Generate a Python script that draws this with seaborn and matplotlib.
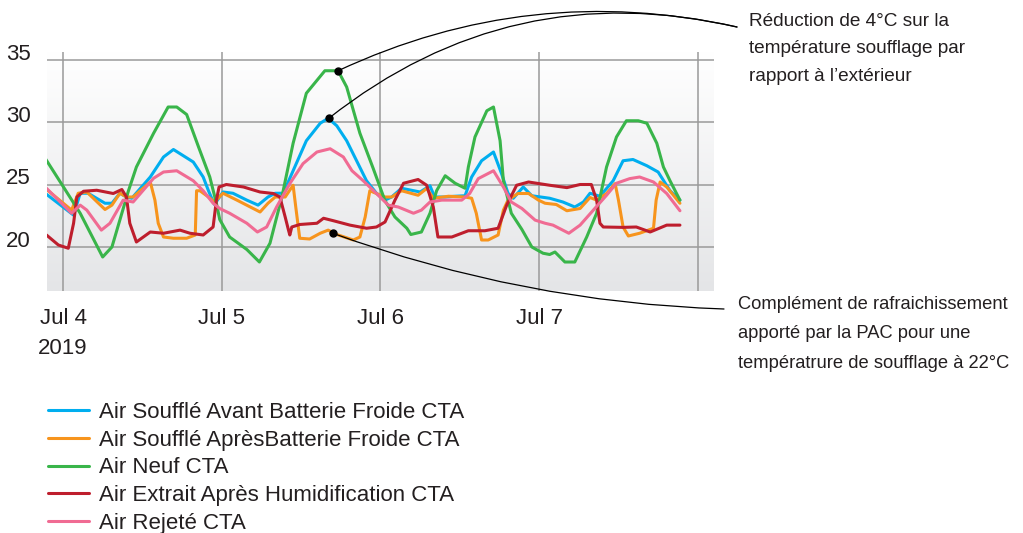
import numpy as np
import pandas as pd
import matplotlib
matplotlib.use("Agg")
import matplotlib.pyplot as plt
from matplotlib.colors import LinearSegmentedColormap
import seaborn as sns

# series: hours after 2019-07-04 00:00 and temperature (°C)
names = ["Air Soufflé Avant Batterie Froide CTA",
         "Air Soufflé AprèsBatterie Froide CTA",
         "Air Neuf CTA",
         "Air Extrait Après Humidification CTA",
         "Air Rejeté CTA"]
colors = ["#00aeef", "#f7941d", "#39b54a", "#be1e2d", "#f06b93"]

blue_h = [-2.7, 1.6, 2.6, 3.8, 6.35, 7.4, 8.6, 9.6, 10.4, 13.2, 15.2, 16.7, 18.2, 19.7, 21.2,
          22.0, 22.9, 24.2, 25.7, 27.8, 29.5, 31.0, 32.1, 33.3, 34.8, 36.8, 38.9, 40.1, 41.4,
          42.9, 44.4, 45.9, 47.4, 48.7, 49.7, 51.2, 54.0, 55.5, 56.2, 57.8, 59.3, 60.8, 61.8,
          63.3, 65.1, 66.3, 67.3, 68.1, 69.6, 70.9, 73.6, 75.6, 77.4, 78.7, 79.7, 81.2, 83.2,
          84.7, 86.2, 88.3, 90.0, 91.8, 93.3]
blue_v = [24.3, 22.55, 24.3, 24.3, 23.5, 23.5, 24.3, 24.0, 23.9, 25.6, 27.2, 27.8, 27.3, 26.8, 25.6,
          24.5, 23.4, 24.4, 24.3, 23.75, 23.35, 24.0, 24.3, 24.3, 26.1, 28.5, 29.9, 30.3, 29.7,
          28.5, 26.9, 25.3, 24.3, 23.75, 24.0, 24.7, 24.4, 24.9, 24.0, 24.0, 24.06, 24.1, 25.6,
          26.9, 27.6, 25.9, 24.3, 23.9, 24.8, 24.1, 23.9, 23.6, 23.2, 23.6, 24.3, 24.06, 25.3,
          26.9, 27.0, 26.5, 26.0, 24.5, 23.75]

orange_h = [-2.7, 1.3, 2.3, 3.6, 6.35, 7.4, 8.6, 9.6, 10.6, 13.2, 13.9, 14.4, 15.2, 16.7, 18.7,
            20.0, 20.2, 20.7, 22.0, 22.9, 24.2, 26.3, 29.8, 31.0, 32.1, 33.6, 34.8, 35.2, 35.8,
            37.3, 38.9, 40.1, 41.4, 43.9, 44.9, 45.7, 46.4, 47.4, 48.7, 49.7, 51.2, 53.7, 55.0,
            56.0, 58.3, 60.8, 61.8, 62.5, 63.3, 64.3, 65.8, 66.6, 67.3, 68.8, 70.4, 71.9, 72.9,
            74.6, 76.2, 78.2, 79.7, 80.7, 82.2, 83.5, 84.0, 84.7, 85.5, 87.2, 89.3, 89.7, 90.3,
            91.3, 93.3]
orange_v = [24.7, 22.95, 24.3, 24.4, 23.0, 23.35, 24.3, 24.0, 24.0, 25.2, 23.75, 21.9, 20.8, 20.7, 20.7,
            20.96, 24.5, 24.5, 24.0, 23.6, 24.3, 23.75, 22.8, 23.5, 24.0, 24.0, 24.94, 23.2, 20.7,
            20.64, 21.1, 21.35, 21.0, 20.56, 20.8, 22.4, 24.5, 24.28, 24.0, 24.0, 24.5, 24.14, 24.68,
            23.9, 24.06, 24.0, 23.9, 22.7, 20.56, 20.56, 20.96, 22.95, 23.75, 24.28, 24.28, 23.75, 23.5,
            23.4, 22.9, 23.08, 23.96, 23.75, 24.28, 25.07, 23.75, 21.6, 20.88, 21.1, 21.5, 23.75, 25.2,
            24.8, 23.5]

green_h = [-2.7, 2.6, 6.0, 7.4, 9.9, 11.1, 13.7, 15.9, 17.2, 18.7, 20.5, 22.2, 23.2, 23.7, 25.2,
           27.8, 29.7, 31.3, 33.1, 34.8, 36.8, 39.6, 41.6, 42.9, 44.9, 46.9, 48.7, 50.2, 52.0,
           52.6, 54.2, 55.5, 56.5, 57.8, 59.3, 60.8, 61.3, 62.3, 64.1, 65.1, 66.1, 66.6, 67.8,
           69.4, 70.9, 72.6, 73.6, 74.4, 75.9, 77.4, 79.2, 80.7, 82.2, 83.7, 85.2, 87.0, 88.3,
           89.8, 90.8, 91.8, 93.3]
green_v = [27.1, 22.7, 19.2, 20.0, 24.5, 26.4, 29.1, 31.2, 31.2, 30.6, 28.0, 25.6, 23.5, 22.2, 20.8,
           19.8, 18.8, 20.3, 24.0, 28.3, 32.3, 34.1, 34.1, 32.8, 29.1, 26.3, 23.7, 22.4, 21.5,
           21.0, 21.2, 22.7, 24.5, 25.7, 25.1, 24.7, 26.4, 28.8, 30.9, 31.2, 28.5, 25.3, 22.7,
           21.4, 20.0, 19.5, 19.4, 19.6, 18.8, 18.8, 20.8, 22.7, 26.4, 28.8, 30.1, 30.1, 29.9,
           28.3, 26.4, 25.3, 23.75]

red_h = [-2.5, -0.7, 0.8, 1.6, 2.1, 3.1, 5.1, 7.6, 8.9, 9.6, 10.1, 11.1, 13.2, 15.2, 17.7,
         19.2, 21.2, 22.7, 23.2, 23.6, 24.7, 27.3, 29.8, 31.8, 32.8, 33.6, 34.1, 34.3, 34.6,
         35.8, 38.4, 39.4, 40.9, 43.4, 45.9, 47.4, 48.7, 50.2, 51.5, 53.7, 55.0, 56.0, 56.7,
         58.8, 61.3, 63.8, 65.8, 67.1, 68.6, 70.4, 73.6, 76.2, 78.2, 79.9, 80.7, 81.2, 81.7,
         84.7, 86.7, 88.8, 91.3, 93.3]
red_v = [20.96, 20.16, 19.9, 21.9, 24.0, 24.46, 24.54, 24.28, 24.6, 24.0, 21.9, 20.4, 21.2, 21.1, 21.35,
         21.1, 20.96, 21.6, 23.75, 24.8, 25.0, 24.8, 24.4, 24.28, 24.0, 22.4, 21.35, 20.96, 21.6,
         21.8, 21.9, 22.3, 22.1, 21.75, 21.5, 21.6, 22.0, 23.75, 25.1, 25.4, 24.94, 23.2, 20.8,
         20.8, 21.3, 21.3, 21.5, 23.35, 24.94, 25.2, 24.94, 24.75, 25.0, 25.0, 23.75, 21.9, 21.6,
         21.57, 21.6, 21.2, 21.75, 21.75]

pink_h = [-2.7, 1.3, 2.6, 3.6, 5.8, 7.1, 9.1, 10.6, 13.7, 15.2, 17.2, 19.7, 21.2, 22.7, 23.7,
          25.2, 27.8, 29.4, 30.8, 32.3, 34.3, 36.3, 38.4, 40.4, 42.4, 43.7, 45.4, 47.4, 49.2,
          50.7, 53.0, 54.2, 55.5, 57.3, 60.3, 61.5, 62.8, 65.1, 66.6, 67.8, 69.4, 71.4, 72.9,
          74.1, 76.5, 78.2, 80.2, 82.2, 83.7, 85.7, 87.2, 89.3, 91.3, 93.3]
pink_v = [24.8, 22.7, 23.35, 22.95, 21.35, 21.9, 23.75, 23.6, 25.5, 26.0, 26.1, 25.3, 24.5, 23.5, 23.08,
          22.7, 21.9, 21.2, 21.6, 23.2, 25.07, 26.67, 27.6, 27.86, 27.2, 26.1, 25.3, 24.28, 23.35,
          23.2, 22.7, 22.95, 23.6, 23.75, 23.75, 24.28, 25.47, 26.1, 24.8, 23.6, 23.08, 22.15, 21.9,
          21.75, 21.1, 21.75, 22.95, 24.14, 25.1, 25.47, 25.6, 25.2, 24.28, 22.9]

# annotation dots (green peak, blue peak, orange plateau)
annot_h = [41.6, 40.2, 40.8]
annot_v = [34.1, 30.3, 21.1]

start = pd.Timestamp("2019-07-04")
frames = []
for name, hh, vv in zip(names, [blue_h, orange_h, green_h, red_h, pink_h],
                        [blue_v, orange_v, green_v, red_v, pink_v]):
    frames.append(pd.DataFrame({"time": start + pd.to_timedelta(hh, unit="h"),
                                "temp": vv, "serie": name}))
df = pd.concat(frames, ignore_index=True)

sns.set_style("white")
plt.rcParams["font.family"] = ["Liberation Sans", "DejaVu Sans"]
txt = "#231f20"

fig = plt.figure(figsize=(10.23, 5.33), dpi=100)
ax = fig.add_axes([47 / 1023, 1 - 291 / 533, (714 - 47) / 1023, (291 - 52) / 533])

# soft grey gradient behind the plot
grad = LinearSegmentedColormap.from_list("bg", ["#ffffff", "#e4e5e7"])
ax.imshow(np.linspace(0, 1, 256).reshape(-1, 1), cmap=grad, aspect="auto",
          extent=[0, 1, 0, 1], transform=ax.transAxes, zorder=0)

sns.lineplot(data=df, x="time", y="temp", hue="serie", hue_order=names,
             palette=dict(zip(names, colors)), linewidth=2.2, estimator=None,
             sort=True, ax=ax, zorder=3)

xmin = start + pd.Timedelta(hours=-2.42)
xmax = start + pd.Timedelta(hours=98.45)
ax.set_xlim(xmin, xmax)
ax.set_ylim(16.48, 35.6)

days = [start + pd.Timedelta(days=d) for d in range(5)]
ax.set_xticks(days, ["Jul 4\n2019", "Jul 5", "Jul 6", "Jul 7", ""])
ax.set_yticks([20, 25, 30, 35], ["20", "25", "30", "35"])
ax.grid(True, color="#9a9a9a", linewidth=1.1, zorder=1)
ax.set_axisbelow(True)
for s in ax.spines.values():
    s.set_visible(False)
ax.tick_params(axis="x", length=0, pad=12, labelsize=16, labelcolor=txt)
ax.tick_params(axis="y", length=0, pad=11.5, labelsize=16, labelcolor=txt)
for lbl in ax.get_xticklabels():
    lbl.set_linespacing(1.6)
for lbl in ax.get_yticklabels():
    lbl.set_verticalalignment("baseline")
ax.set_xlabel("")
ax.set_ylabel("")

# annotation dots and leader curves
annot_t = [start + pd.Timedelta(hours=h) for h in annot_h]
ax.plot(annot_t, annot_v, "o", color="black", markersize=5, zorder=5)
H = 533
for t, v, end, rad in [(annot_t[0], annot_v[0], (737, H - 27), 0.17),
                       (annot_t[1], annot_v[1], (737, H - 27), 0.24),
                       (annot_t[2], annot_v[2], (724, H - 309), -0.08)]:
    ax.annotate("", xy=(t, v), xycoords="data", xytext=end, textcoords="figure pixels",
                arrowprops=dict(arrowstyle="-", color="black", lw=0.9, shrinkA=0, shrinkB=0,
                                connectionstyle=f"arc3,rad={rad}"),
                annotation_clip=False, zorder=4)

fig.text(749 / 1023, 1 - 13 / 533,
         "Réduction de 4°C sur la\ntempérature soufflage par\nrapport à l’extérieur",
         ha="left", va="top", fontsize=13.7, color=txt, linespacing=1.8)
fig.text(738 / 1023, 1 - 296 / 533,
         "Complément de rafraichissement\napporté par la PAC pour une\ntempératrure de soufflage à 22°C",
         ha="left", va="top", fontsize=13.2, color=txt, linespacing=1.95)

sns.move_legend(ax, "upper left", bbox_to_anchor=(48 / 1023, 1 - 402 / 533),
                bbox_transform=fig.transFigure, frameon=False, title=None,
                fontsize=16, handlelength=1.85, handletextpad=0.45,
                labelspacing=0.3, borderpad=0, borderaxespad=0, labelcolor=txt)
for line in ax.get_legend().get_lines():
    line.set_linewidth(2.2)

fig.savefig("out.png", dpi=100)
